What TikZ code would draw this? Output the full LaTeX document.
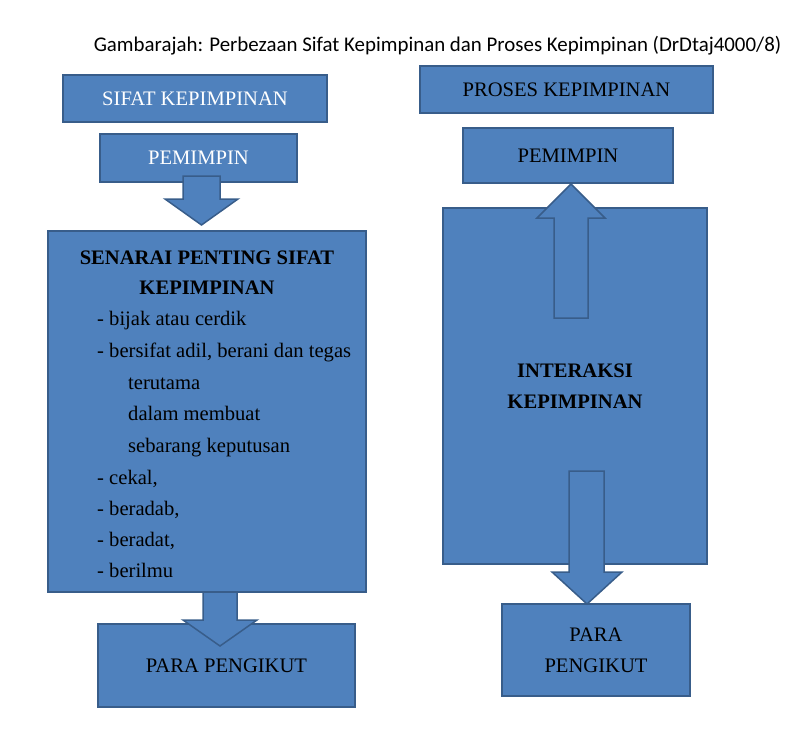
\documentclass[tikz,border=0pt]{standalone}
\usepackage{fontspec}
\setmainfont{Liberation Serif}
\newfontfamily\captionfont{Carlito}
\definecolor{kpfill}{HTML}{4F81BD}
\definecolor{kpline}{HTML}{385D8A}

\tikzset{
  kpbox/.style={rectangle, fill=kpfill, draw=kpline, line width=1.5pt, inner sep=0pt,
    align=center, font=\fontsize{20.6}{31}\selectfont},
  kparrow/.style={fill=kpfill, draw=kpline, line width=1.5pt, line join=miter},
  kpitem/.style={inner sep=0pt, anchor=base west, font=\fontsize{20.6}{31}\selectfont},
  kphead/.style={inner sep=0pt, anchor=base, font=\fontsize{20.6}{31}\selectfont\bfseries}
}

\begin{document}
\begin{tikzpicture}[x=1pt, y=-1pt]
\useasboundingbox (0,0) rectangle (808,752);

\node[inner sep=0pt, anchor=base, font=\captionfont\fontsize{20.9}{24}\selectfont] (caption) at (437.5,52)
  {Gambarajah: Perbezaan Sifat Kepimpinan dan Proses Kepimpinan (DrDtaj4000/8)};

% left column
\node[kpbox, minimum width=264pt, minimum height=47pt, text=white] (sifat) at (195,98.5) {SIFAT KEPIMPINAN};
\node[kpbox, minimum width=197pt, minimum height=48pt, text=white] (pemimpinL) at (198.5,158) {PEMIMPIN};
\node[kpbox, minimum width=318pt, minimum height=361pt] (senarai) at (207,411.5) {};
\node[kpbox, minimum width=257pt, minimum height=83pt] (pengikutL) at (226.5,665.5) {PARA PENGIKUT};

\node[kphead] (senaraiA) at (207,264) {SENARAI PENTING SIFAT};
\node[kphead] (senaraiB) at (207,294) {KEPIMPINAN};
\node[kpitem] (item1) at (97,325) {- bijak atau cerdik};
\node[kpitem] (item2) at (97,357) {- bersifat adil, berani dan tegas};
\node[kpitem] (item2a) at (128,389) {terutama};
\node[kpitem] (item2b) at (128,420) {dalam membuat};
\node[kpitem] (item2c) at (128,452) {sebarang keputusan};
\node[kpitem] (item3) at (97,484) {- cekal,};
\node[kpitem] (item4) at (97,515) {- beradab,};
\node[kpitem] (item5) at (97,546) {- beradat,};
\node[kpitem] (item6) at (97,577) {- berilmu};

\draw[kparrow] (183,176) -- (220,176) -- (220,199) -- (238,199) -- (201.5,225) -- (165,199) -- (183,199) -- cycle;
\draw[kparrow] (203,592) -- (237,592) -- (237,620) -- (257,620) -- (220,646) -- (183,620) -- (203,620) -- cycle;

% right column
\node[kpbox, minimum width=293pt, minimum height=47pt] (proses) at (566.5,89.5) {PROSES KEPIMPINAN};
\node[kpbox, minimum width=210pt, minimum height=55pt] (pemimpinR) at (568,155.5) {PEMIMPIN};
\node[kpbox, minimum width=264pt, minimum height=356pt] (interaksi) at (575,386) {\bfseries INTERAKSI\\\bfseries KEPIMPINAN};
\node[kpbox, minimum width=188pt, minimum height=92pt] (pengikutR) at (596,650) {PARA\\PENGIKUT};

\draw[kparrow] (554,318) -- (554,218) -- (537,218) -- (571,184) -- (605,218) -- (588,218) -- (588,318) -- cycle;
\draw[kparrow] (569,471) -- (604,471) -- (604,572) -- (622,572) -- (587,604) -- (552,572) -- (569,572) -- cycle;
\end{tikzpicture}
\end{document}
